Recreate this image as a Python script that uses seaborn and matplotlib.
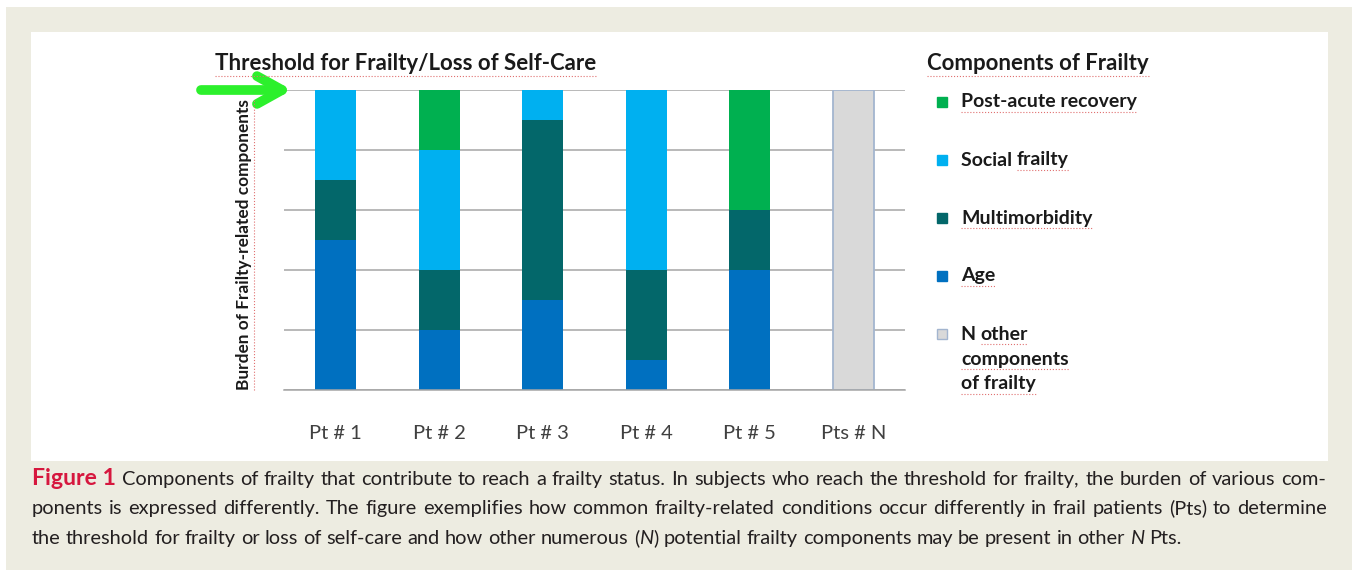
#!/bin/python3
import numpy as np
import pandas as pd
import seaborn as sns
import matplotlib.pyplot as plt
from matplotlib.patches import Rectangle
from matplotlib.lines import Line2D

# burden of each component per patient (units of the y grid, threshold = 5)
patients = ["Pt # 1", "Pt # 2", "Pt # 3", "Pt # 4", "Pt # 5", "Pts # N"]
age = [2.5, 1, 1.5, 0.5, 2, 0]
multimorbidity = [1, 1, 3, 1.5, 1, 0]
social = [1.5, 2, 0.5, 3, 0, 0]
post_acute = [0, 1, 0, 0, 2, 0]
other = [0, 0, 0, 0, 0, 5]

components = ["Age", "Multimorbidity", "Social frailty", "Post-acute recovery", "N other components of frailty"]
colors = ["#0070C0", "#03676A", "#00B0F0", "#00B050", "#D9D9D9"]

caption_lines = [
    "Components of frailty that contribute to reach a frailty status. In subjects who reach the threshold for frailty, the burden of various com-",
    "ponents is expressed differently. The figure exemplifies how common frailty-related conditions occur differently in frail patients (Pts) to determine",
    "the threshold for frailty or loss of self-care and how other numerous (*N*) potential frailty components may be present in other *N* Pts.",
]

W, H = 1352, 570
beige = "#EDECE1"
red_line = "#E07070"
cap_color = "#231F20"

sns.set_style("white")
plt.rcParams['font.family'] = ['Lato', 'DejaVu Sans']

fig = plt.figure(figsize=(W / 100, H / 100), dpi=100)
fig.patch.set_facecolor("white")


def fx(x):
    return x / W


def fy(y):
    return 1 - y / H


# background frame + white panel
fig.patches.append(Rectangle((fx(6), 0), 1 - fx(6), fy(7), transform=fig.transFigure,
                             facecolor=beige, edgecolor="none", zorder=-3))
fig.patches.append(Rectangle((fx(31), fy(461)), fx(1328 - 31), (461 - 32) / H, transform=fig.transFigure,
                             facecolor="white", edgecolor="none", zorder=-2))

ax = fig.add_axes([fx(284), fy(390), fx(905 - 284), 300 / H])
ax.set_facecolor("none")

wide = pd.DataFrame({c: v for c, v in zip(components, [age, multimorbidity, social, post_acute, other])},
                    index=patients)
base = wide.cumsum(axis=1) - wide

for comp, col in zip(components, colors):
    sel = (wide[comp] > 0).values
    edge = "#A3B5CF" if comp.startswith("N other") else col
    lw = 1.3 if comp.startswith("N other") else 0
    sns.barplot(x=list(wide.index[sel]), y=wide.loc[sel, comp].tolist(), order=patients,
                color=col, saturation=1, width=0.4, errorbar=None,
                bottom=base.loc[sel, comp].values, edgecolor=edge, linewidth=lw, ax=ax)

ax.set_xlim(-0.5, 5.5)
ax.set_ylim(0, 5)
ax.set_yticks(range(6))
ax.set_yticklabels([])
ax.tick_params(axis="y", length=0)
ax.yaxis.grid(True, color="#A6A6A6", lw=1.1)
ax.set_axisbelow(True)
for s in ["top", "right", "left"]:
    ax.spines[s].set_visible(False)
ax.spines["bottom"].set_color("#A6A6A6")
ax.spines["bottom"].set_linewidth(1.1)
ax.set_xticks(range(len(patients)))
ax.set_xticklabels(patients)
ax.tick_params(axis="x", which="major", length=0, pad=25, labelsize=14.5, labelcolor="#404040")
ax.set_xticks(np.arange(-0.5, 6, 1), minor=True)
ax.tick_params(axis="x", which="minor", length=6, width=1, color="#A6A6A6", direction="out")
ax.set_xlabel("")
ax.set_ylabel("")

renderer = fig.canvas.get_renderer()


def underline(t, vertical=False):
    bb = t.get_window_extent(renderer)
    if vertical:
        x = bb.x1 + 2
        fig.add_artist(Line2D([x / W, x / W], [bb.y0 / H, bb.y1 / H], transform=fig.transFigure,
                              color=red_line, lw=0.8, ls=":"))
    else:
        y = bb.y0 - 1
        fig.add_artist(Line2D([bb.x0 / W, bb.x1 / W], [y / H, y / H], transform=fig.transFigure,
                              color=red_line, lw=0.8, ls=":"))


# titles
t = fig.text(fx(215), fy(64), "Threshold for Frailty/Loss of Self-Care", ha="left", va="center",
             fontsize=16, fontweight="bold", color="#1A1A1A")
underline(t)
t = fig.text(fx(927), fy(64), "Components of Frailty", ha="left", va="center",
             fontsize=16, fontweight="bold", color="#1A1A1A")
underline(t)
t = fig.text(fx(244), fy(245), "Burden of Frailty-related components", ha="center", va="center",
             rotation=90, fontsize=12.4, fontweight="bold", color="#1A1A1A")
underline(t, vertical=True)

# threshold arrow
ax.annotate("", xy=(292, H - 90), xytext=(201, H - 90), xycoords="figure pixels", textcoords="figure pixels",
            arrowprops=dict(arrowstyle="->,head_length=0.9,head_width=0.5", mutation_scale=20,
                            lw=7, color="#2CF02C", shrinkA=0, shrinkB=0, capstyle="round",
                            joinstyle="round"))

# legend (top to bottom)
legend_rows = [
    ("Post-acute recovery", colors[3], [102], [("", "Post-acute recovery")]),
    ("Social frailty", colors[2], [160], [("Social ", "frailty")]),
    ("Multimorbidity", colors[1], [218], [("", "Multimorbidity")]),
    ("Age", colors[0], [276], [("", "Age")]),
    ("N other components of frailty", colors[4], [334, 359, 384],
     [("N ", "other"), ("", "components"), ("", "of frailty")]),
]
for name, col, ys, parts in legend_rows:
    ec = "#A3B5CF" if name.startswith("N other") else col
    fig.patches.append(Rectangle((fx(937), fy(ys[0] + 5)), 10 / W, 10 / H, transform=fig.transFigure,
                                 facecolor=col, edgecolor=ec, lw=1))
    for y, (plain, marked) in zip(ys, parts):
        x = 961
        if plain:
            tp = fig.text(fx(x), fy(y), plain, ha="left", va="center", fontsize=14,
                          fontweight="bold", color="#1A1A1A")
            x += tp.get_window_extent(renderer).width
        tm = fig.text(fx(x), fy(y), marked, ha="left", va="center", fontsize=14,
                      fontweight="bold", color="#1A1A1A")
        underline(tm)

# caption with justified lines
probe = fig.text(0, 0, caption_lines[2].replace("*", ""), fontsize=12)
cap_size = 12 * 1150 / probe.get_window_extent(renderer).width
probe.remove()
sp_a = fig.text(0, 0, "a a", fontsize=cap_size)
sp_b = fig.text(0, 0, "aa", fontsize=cap_size)
space_w = sp_a.get_window_extent(renderer).width - sp_b.get_window_extent(renderer).width
sp_a.remove()
sp_b.remove()


def place_line(words, y_base, x0, x1, justify):
    placed = []
    for w in words:
        segs = []
        for style, s in w:
            kw = {}
            if style == "italic":
                kw["style"] = "italic"
            if style == "fig":
                kw.update(fontweight="bold", color="#D6173E", fontsize=cap_size * 1.15)
            else:
                kw.update(color=cap_color, fontsize=cap_size)
            tt = fig.text(0, fy(y_base), s, ha="left", va="baseline", **kw)
            segs.append((tt, tt.get_window_extent(renderer).width))
        placed.append(segs)
    widths = [sum(wd for _, wd in segs) for segs in placed]
    if justify:
        gap = (x1 - x0 - sum(widths)) / (len(placed) - 1)
    else:
        gap = space_w
    x = x0
    for segs in placed:
        for tt, wd in segs:
            tt.set_x(fx(x))
            x += wd
        x += gap


def split_words(line):
    out = []
    for word in line.split(" "):
        pieces = word.split("*")
        out.append([("italic" if i % 2 else "normal", p) for i, p in enumerate(pieces) if p])
    return out


line1 = [[("fig", "Figure 1")]] + split_words(caption_lines[0])
place_line(line1, 485, 32, 1326, True)
place_line(split_words(caption_lines[1]), 514, 32, 1327, True)
place_line(split_words(caption_lines[2]), 544, 32, 1327, False)

fig.savefig("out.png", dpi=100, facecolor=fig.get_facecolor())
